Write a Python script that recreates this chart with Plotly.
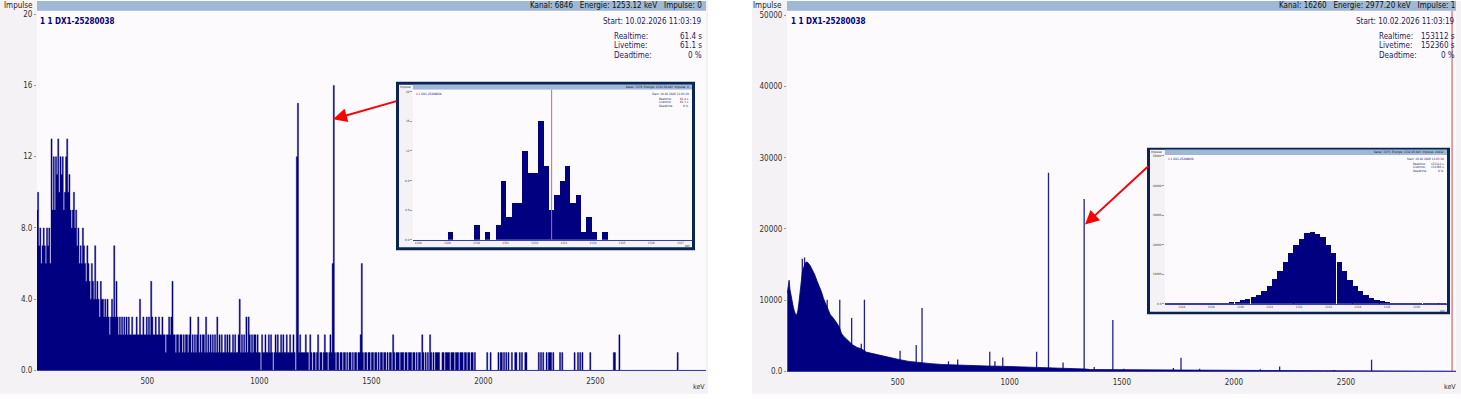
import plotly.graph_objects as go

W, H = 1461, 399

# ---------------- data ----------------
# Left spectrum (61 s measurement), counts per 5 keV bin, 0..3000 keV
left_bin_width = 5
left_counts = (
    [0, 9, 10, 7, 8, 6, 7, 8, 7, 6, 8, 7, 8, 6, 13, 9, 12, 9, 12, 11] +
    [13, 10, 12, 11, 12, 9, 10, 12, 13, 10, 11, 9, 8, 9, 10, 8, 9, 7, 8, 6] +
    [7, 6, 8, 7, 6, 5, 7, 6, 5, 4, 6, 5, 4, 7, 4, 5, 4, 3, 5, 4] +
    [4, 3, 4, 3, 4, 3, 2, 3, 4, 3, 7, 3, 5, 3, 2, 3, 2, 3, 2, 3] +
    [2, 3, 2, 3, 2, 2, 3, 2, 2, 2, 3, 2, 2, 4, 2, 2, 3, 2, 2, 3] +
    [2, 3, 2, 5, 3, 2, 2, 3, 2, 2, 3, 2, 2, 3, 2, 2, 1, 2, 2, 3] +
    [2, 3, 5, 2, 2, 1, 2, 2, 1, 2, 2, 1, 2, 1, 2, 2, 1, 2, 3, 1] +
    [2, 1, 2, 1, 2, 3, 1, 2, 1, 2, 2, 1, 3, 1, 2, 1, 2, 1, 2, 1] +
    [2, 1, 3, 1, 2, 1, 2, 1, 1, 2, 1, 2, 1, 2, 1, 1, 2, 1, 2, 1] +
    [1, 2, 4, 1, 2, 1, 2, 1, 3, 1, 3, 2, 1, 2, 1, 2, 2, 1, 2, 1] +
    [1, 0, 2, 1, 1, 2, 1, 1, 2, 1, 2, 1, 0, 1, 2, 1, 2, 1, 1, 2] +
    [1, 2, 1, 1, 2, 1, 1, 2, 1, 1, 2, 1, 0, 12, 15, 1, 2, 1, 1, 1] +
    [1, 2, 1, 1, 0, 2, 1, 0, 1, 1, 0, 1, 2, 0, 1, 1, 0, 1, 2, 1] +
    [1, 0, 1, 2, 1, 6, 16, 1, 0, 1, 1, 0, 1, 1, 0, 1, 1, 0, 1, 0] +
    [1, 1, 0, 1, 0, 1, 1, 0, 1, 1, 2, 6, 1, 0, 1, 1, 0, 1, 1, 0] +
    [1, 1, 0, 1, 1, 0, 1, 0, 1, 1, 0, 1, 1, 0, 1, 0, 1, 1, 0, 2] +
    [1, 0, 1, 1, 1, 0, 1, 1, 1, 0, 1, 1, 0, 1, 1, 1, 0, 1, 1, 0] +
    [1, 0, 1, 1, 0, 2, 1, 0, 1, 0, 1, 0, 2, 1, 0, 1, 0, 1, 1, 1] +
    [1, 0, 0, 1, 1, 0, 1, 1, 1, 1, 0, 1, 1, 1, 0, 1, 1, 1, 0, 1] +
    [1, 1, 0, 1, 1, 0, 1, 1, 0, 1, 1, 0, 1, 0, 0, 0, 0, 0, 0, 0] +
    [0, 0, 0, 1, 0, 0, 1, 0, 0, 0, 0, 0, 0, 1, 0, 1, 1, 0, 1, 0] +
    [1, 0, 1, 0, 0, 1, 0, 0, 1, 1, 0, 0, 1, 0, 1, 0, 0, 1, 1, 0] +
    [0, 0, 0, 0, 0, 0, 0, 0, 0, 1, 0, 1, 0, 1, 0, 0, 1, 0, 1, 1] +
    [1, 0, 1, 0, 0, 0, 0, 0, 1, 0, 1, 0, 0, 0, 0, 0, 0, 0, 0, 0] +
    [0, 1, 0, 0, 1, 0, 1, 0, 1, 0, 0, 0, 0, 0, 0, 1, 0, 0, 0, 0] +
    [0, 0, 0, 0, 0, 0, 0, 0, 0, 0, 0, 0, 0, 0, 0, 0, 1, 1, 0, 0] +
    [0, 2, 0, 0, 0, 0, 0, 0, 0, 0, 0, 0, 0, 0, 0, 0, 0, 0, 0, 0] +
    [0, 0, 0, 0, 0, 0, 0, 0, 0, 0, 0, 0, 0, 0, 0, 0, 0, 0, 0, 0] +
    [0, 0, 0, 0, 0, 0, 0, 0, 0, 0, 0, 0, 0, 1, 0, 0, 0, 0, 0, 0] +
    [0, 0, 0, 0, 0, 0, 0, 0, 0, 0, 0, 0, 0, 0, 0, 0, 0, 0, 0, 0]
)

# Right spectrum (153112 s measurement): continuum + lines
right_cont_energy = [8, 12, 16, 20, 25, 30, 35, 40, 45, 50, 55, 60, 65, 70, 75, 80, 85, 90, 95, 100,
                     110, 120, 130, 140, 150, 160, 170, 180, 190, 200, 210, 220, 230, 240, 250, 260,
                     270, 280, 290, 300, 320, 340, 360, 380, 400, 450, 500, 550, 600, 650, 700, 800,
                     900, 1000, 1100, 1150, 1200, 1250, 1300, 1340, 1360, 1400, 1450, 1500, 1600,
                     1700, 1800, 1900, 2000, 2200, 2400, 2600, 2640, 2800, 3000]
right_cont_counts = [10970, 12000, 12800, 11500, 10500, 9700, 9000, 8400, 8000, 7900, 8500, 9700, 11500,
                     13000, 13900, 14500, 15000, 15300, 15350, 15250, 14850, 14250, 13600, 12750, 12000,
                     11200, 10200, 9400, 8600, 7950, 7600, 7200, 6750, 6200, 5300, 4900, 4600, 4300,
                     4000, 3700, 3350, 3150, 2700, 2550, 2400, 2000, 1700, 1400, 1200, 1080, 960, 830,
                     750, 680, 600, 560, 450, 380, 350, 320, 250, 240, 230, 200, 180, 170, 140, 130,
                     120, 110, 100, 80, 30, 25, 20]
right_peak_energy = [75, 85, 186, 242, 295, 338, 352, 511, 583, 609, 727, 768, 911, 934, 969, 1120,
                     1173, 1238, 1332, 1377, 1460, 1509, 1730, 1764, 1847, 2118, 2204, 2448, 2614]
right_peak_counts = [15800, 16000, 10050, 10050, 7500, 3870, 10050, 2900, 3700, 8900, 1420, 1650, 2760,
                     1420, 1940, 2760, 27900, 1240, 24200, 600, 7200, 350, 460, 1900, 370, 300, 690,
                     200, 1620]

# Inset left: zoom on the 1332 keV line, counts per channel
inset_left_energy = [1329.097, 1330.013, 1330.379, 1330.745, 1330.928, 1331.111, 1331.294, 1331.478,
                     1331.661, 1331.844, 1332.027, 1332.210, 1332.393, 1332.576, 1332.759, 1332.942,
                     1333.126, 1333.309, 1333.492, 1333.675, 1333.858, 1334.041, 1334.407]
inset_left_counts = [1, 2, 1, 2, 8, 3, 5, 5, 12, 9, 9, 16, 10, 4, 6, 8, 10, 5, 6, 1, 3, 1, 1]

# Inset right: zoom on the 1332 keV line, counts per channel
inset_right_energy = [1327.51, 1327.69, 1327.87, 1328.06, 1328.24, 1328.42, 1328.61, 1328.79, 1328.97,
                      1329.16, 1329.34, 1329.52, 1329.70, 1329.89, 1330.07, 1330.25, 1330.44, 1330.62,
                      1330.80, 1330.99, 1331.17, 1331.35, 1331.53, 1331.72, 1331.90, 1332.08, 1332.27,
                      1332.45, 1332.63, 1332.82, 1333.00, 1333.18, 1333.37, 1333.55, 1333.73, 1333.91,
                      1334.10, 1334.28, 1334.46, 1334.65, 1334.83, 1335.01, 1335.20, 1335.38, 1335.56,
                      1335.75, 1335.93, 1336.11, 1336.30, 1336.48, 1336.66, 1336.84, 1337.03]
inset_right_counts = [160, 170, 170, 180, 180, 190, 200, 210, 220, 260, 300, 350, 420, 650, 1110, 1440,
                      2110, 3000, 4440, 6110, 8330, 11100, 14000, 17000, 20000, 22000, 23900, 24400,
                      23700, 22500, 20000, 17000, 14000, 10900, 8100, 5900, 4200, 2900, 1800, 1200, 780,
                      440, 260, 200, 180, 170, 160, 150, 150, 140, 140, 130, 130]

main_ticks = [500, 1000, 1500, 2000, 2500]
left_yticks = [0, 4, 8, 12, 16, 20]
left_yticktext = ["0.0", "4.0", "8.0", "12", "16", "20"]
right_yticks = [0, 10000, 20000, 30000, 40000, 50000]
right_yticktext = ["0.0", "10000", "20000", "30000", "40000", "50000"]
inset_left_xticks = [1328, 1329, 1330, 1331, 1332, 1333, 1334, 1335, 1336, 1337]
inset_right_xticks = [1328, 1329, 1330, 1331, 1332, 1333, 1334, 1335, 1336]

assert len(left_counts) == 600

# ---------------- styling helpers ----------------
FONT = "Liberation Sans Narrow, DejaVu Sans Condensed, Arial Narrow, Roboto Condensed, Roboto, sans-serif"
NAVY = "#000080"
GRAY = "#f4f2f4"
PLOTBG = "#fdfafd"
HEADER = "#9fb8d5"
BORDER = "#0a2456"


def px(x):
    return x / W


def py(y):
    return 1 - y / H


shapes = []
annotations = []


def rect(x0, y0, x1, y1, color, layer="below"):
    shapes.append(dict(type="rect", xref="paper", yref="paper", x0=px(x0), x1=px(x1),
                       y0=py(y1), y1=py(y0), fillcolor=color, line=dict(width=0), layer=layer))


def txt(x, y, s, size=8, color="#222", xanchor="left"):
    annotations.append(dict(x=px(x), y=py(y), xref="paper", yref="paper", text=s, showarrow=False,
                            xanchor=xanchor, yanchor="middle", borderpad=0,
                            font=dict(size=size, color=color, family=FONT)))


# panels
rect(0, 0, 708, 399, GRAY)
rect(752, 0, 1461, 399, GRAY)
rect(37, 10, 706, 375, PLOTBG)
rect(787, 10, 1456, 376, PLOTBG)
rect(37, 0, 706, 10, HEADER)
rect(787, 0, 1456, 10, HEADER)

# inset frames
rect(396, 82, 695, 253, BORDER)
rect(399, 85, 692, 250, GRAY)
rect(413, 85, 692, 90, HEADER)
rect(413, 90, 692, 242.3, PLOTBG)

rect(1147, 149, 1450, 318, BORDER)
rect(1150, 151, 1447, 315.5, GRAY)
rect(1165, 151, 1447, 156.3, HEADER)
rect(1165, 156.3, 1447, 307.3, PLOTBG)

# red cursor lines
shapes.append(dict(type="line", xref="x2", yref="y2 domain", x0=2973, x1=2973, y0=0, y1=1,
                   line=dict(color="#c84848", width=1), layer="above"))
shapes.append(dict(type="line", xref="x3", yref="y3 domain", x0=1332.58, x1=1332.58, y0=0, y1=1,
                   line=dict(color="#cc6a6a", width=1), layer="above"))

# ---------------- texts ----------------
INFO = "#1c1c5c"
# left panel
txt(3, 5, "Impulse", 8, "#222")
txt(703, 5, "Kanal: 6846&nbsp;&nbsp;&nbsp;Energie: 1253.12 keV&nbsp;&nbsp;&nbsp;Impulse: 0", 8, "#111", "right")
txt(39, 21, "<b>1 1 DX1-25280038</b>", 8, NAVY)
txt(703, 21, "Start: 10.02.2026 11:03:19", 8, INFO, "right")
txt(613, 36, "Realtime:", 8, INFO)
txt(703, 36, "61.4 s", 8, INFO, "right")
txt(613, 45.5, "Livetime:", 8, INFO)
txt(703, 45.5, "61.1 s", 8, INFO, "right")
txt(613, 55, "Deadtime:", 8, INFO)
txt(703, 55, "0 %", 8, INFO, "right")
txt(706, 392, "keV", 7, "#333", "right")

# right panel
txt(752, 5, "Impulse", 8, "#222")
txt(1456, 5, "Kanal: 16260&nbsp;&nbsp;&nbsp;Energie: 2977.20 keV&nbsp;&nbsp;&nbsp;Impulse: 1", 8, "#111", "right")
txt(790, 21, "<b>1 1 DX1-25280038</b>", 8, NAVY)
txt(1456, 21, "Start: 10.02.2026 11:03:19", 8, INFO, "right")
txt(1378, 36, "Realtime:", 8, INFO)
txt(1456, 36, "153112 s", 8, INFO, "right")
txt(1378, 45.5, "Livetime:", 8, INFO)
txt(1456, 45.5, "152360 s", 8, INFO, "right")
txt(1378, 55, "Deadtime:", 8, INFO)
txt(1456, 55, "0 %", 8, INFO, "right")
txt(1457, 392, "keV", 7, "#333", "right")

# left inset texts
txt(399, 87.5, "Impulse", 3, "#222")
txt(690, 87.5, "Kanal: 7276&nbsp;&nbsp;Energie: 1332.58 keV&nbsp;&nbsp;Impulse: 4", 3, "#111", "right")
txt(415, 94, "1 1 DX1-25280038", 3, NAVY)
txt(690, 94, "Start: 10.02.2026 11:03:19", 3, INFO, "right")
txt(658, 99, "Realtime:", 3, INFO)
txt(690, 99, "61.4 s", 3, INFO, "right")
txt(658, 103, "Livetime:", 3, INFO)
txt(690, 103, "61.1 s", 3, INFO, "right")
txt(658, 107, "Deadtime:", 3, INFO)
txt(690, 107, "0 %", 3, INFO, "right")
txt(691, 248.5, "keV", 3, "#333", "right")

# right inset texts
txt(1150, 153, "Impulse", 3, "#222")
txt(1445, 153.5, "Kanal: 7275&nbsp;&nbsp;Energie: 1332.45 keV&nbsp;&nbsp;Impulse: 24412", 3, "#111", "right")
txt(1167, 160, "1 1 DX1-25280038", 3, NAVY)
txt(1445, 160, "Start: 10.02.2026 11:03:19", 3, INFO, "right")
txt(1412, 165, "Realtime:", 3, INFO)
txt(1445, 165, "153112 s", 3, INFO, "right")
txt(1412, 169, "Livetime:", 3, INFO)
txt(1445, 169, "152360 s", 3, INFO, "right")
txt(1412, 173, "Deadtime:", 3, INFO)
txt(1445, 173, "0 %", 3, INFO, "right")
txt(1446, 314.5, "keV", 3, "#333", "right")

# red arrows
annotations.append(dict(x=px(333), y=py(120), xref="paper", yref="paper", text="", showarrow=True,
                        ax=398 - 333, ay=101.5 - 120, arrowhead=2, arrowsize=1.4, arrowwidth=2,
                        arrowcolor="#ff0000", standoff=0, startstandoff=0))
annotations.append(dict(x=px(1085), y=py(227), xref="paper", yref="paper", text="", showarrow=True,
                        ax=1150 - 1085, ay=167 - 227, arrowhead=2, arrowsize=1.4, arrowwidth=2,
                        arrowcolor="#ff0000", standoff=0, startstandoff=0))

# ---------------- traces ----------------
left_edges = [left_bin_width * i for i in range(len(left_counts) + 1)]
left_steps = left_counts + [left_counts[-1]]

peak_x, peak_y = [], []
for e, c in zip(right_peak_energy, right_peak_counts):
    peak_x += [e, e, None]
    peak_y += [0, c, None]

fig = go.Figure()
fig.add_trace(go.Scatter(x=left_edges, y=left_steps, mode="lines", line_shape="hv", fill="tozeroy",
                         line=dict(color=NAVY, width=0.4), fillcolor=NAVY, xaxis="x", yaxis="y"))
# peak lines first so the continuum fill hides their lower part
fig.add_trace(go.Scatter(x=peak_x, y=peak_y, mode="lines", line=dict(color="#22228e", width=1.3),
                         xaxis="x2", yaxis="y2"))
fig.add_trace(go.Scatter(x=right_cont_energy, y=right_cont_counts, mode="lines", fill="tozeroy",
                         line=dict(color=NAVY, width=0.8), fillcolor=NAVY, xaxis="x2", yaxis="y2"))
fig.add_trace(go.Bar(x=inset_left_energy, y=inset_left_counts, width=0.1831,
                     marker=dict(color=NAVY, line=dict(width=0)), xaxis="x3", yaxis="y3"))
fig.add_trace(go.Bar(x=inset_right_energy, y=inset_right_counts, width=0.1831,
                     marker=dict(color=NAVY, line=dict(width=0)), xaxis="x4", yaxis="y4"))

tickfont = dict(size=8, color="#333", family=FONT)
tinyfont = dict(size=3, color="#333", family=FONT)
common_x = dict(showgrid=False, zeroline=False, showline=True, linecolor="#3c3ca8", linewidth=1,
                ticks="", fixedrange=True)
common_y = dict(showgrid=False, zeroline=False, showline=False, ticks="outside", ticklen=2,
                tickcolor="#999", fixedrange=True)

fig.update_layout(
    width=W, height=H, margin=dict(l=0, r=0, t=0, b=0),
    paper_bgcolor="white", plot_bgcolor="rgba(0,0,0,0)",
    showlegend=False, font=dict(family=FONT), bargap=0, hovermode=False,
    xaxis=dict(domain=[px(37), px(706)], range=[7.6, 2994], anchor="y", tickvals=main_ticks,
               tickfont=tickfont, ticklabelstandoff=3, **common_x),
    yaxis=dict(domain=[py(375), py(10)], range=[0, 20.19], anchor="x", tickvals=left_yticks,
               ticktext=left_yticktext, tickfont=tickfont, **common_y),
    xaxis2=dict(domain=[px(787), px(1456)], range=[6.7, 2990.6], anchor="y2", tickvals=main_ticks,
                tickfont=tickfont, ticklabelstandoff=3, **common_x),
    yaxis2=dict(domain=[py(376), py(10)], range=[0, 50620], anchor="x2", tickvals=right_yticks,
                ticktext=right_yticktext, tickfont=tickfont, **common_y),
    xaxis3=dict(domain=[px(413), px(692)], range=[1327.82, 1337.4], anchor="y3",
                tickvals=inset_left_xticks, tickfont=tinyfont, **common_x),
    yaxis3=dict(domain=[py(242.3), py(90)], range=[0, 20.3], anchor="x3", tickvals=left_yticks,
                ticktext=left_yticktext, tickfont=tinyfont, **common_y),
    xaxis4=dict(domain=[px(1165), px(1446.7)], range=[1327.43, 1337.03], anchor="y4",
                tickvals=inset_right_xticks, tickfont=tinyfont, **common_x),
    yaxis4=dict(domain=[py(307.3), py(156.3)], range=[0, 50333], anchor="x4", tickvals=right_yticks,
                ticktext=right_yticktext, tickfont=tinyfont, **common_y),
    shapes=shapes, annotations=annotations,
)

fig.write_html("out.html", config={"displayModeBar": False, "staticPlot": True},
               post_script="document.body.style.margin='0px';document.body.style.overflow='hidden';")
